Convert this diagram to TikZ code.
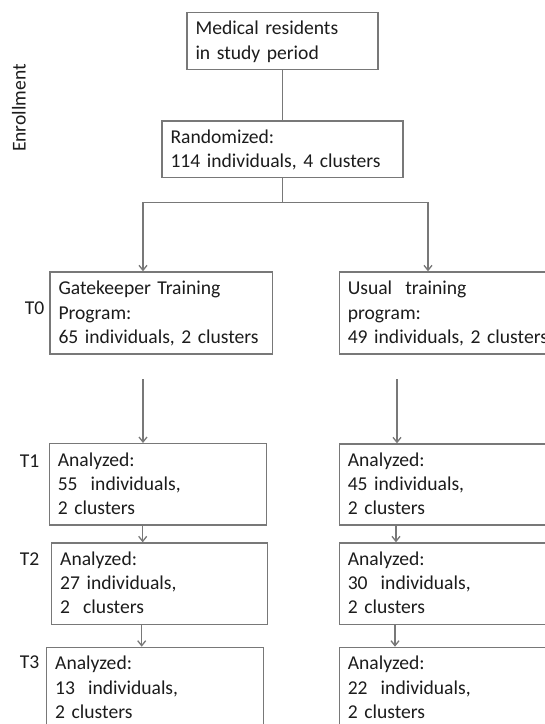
\documentclass[tikz,border=0pt]{standalone}
\usepackage{fontspec}
\setmainfont{Carlito}
\usetikzlibrary{arrows.meta}
\definecolor{linegray}{RGB}{120,120,120}
\definecolor{txt}{RGB}{28,28,28}
\newcommand{\myTop}{\rule{0pt}{16pt}}
\newcommand{\myBot}{\rule[-4pt]{0pt}{4pt}}
\begin{document}
\begin{tikzpicture}[x=1pt,y=-1pt,
  box/.style={draw=linegray, line width=1.3pt, rectangle, align=left,
    inner xsep=8.5pt, inner ysep=0pt, text=txt,
    font=\fontsize{19.6}{24.3}\selectfont},
  lab/.style={inner sep=0pt, text=txt, font=\fontsize{19.6}{24.3}\selectfont},
  conn/.style={draw=linegray, line width=1.3pt},
  arr/.style={conn, -{Straight Barb[length=5pt,width=8pt]}}]
\useasboundingbox (0,0) rectangle (545,724);
\fill[white] (0,0) rectangle (545,724);

% enrollment
\node[box, text width=174pt, minimum height=56.6pt] (res) at (282.5,41)
  {\myTop Medical residents\\in study period\myBot};
\node[box, text width=224pt, minimum height=56.7pt] (rand) at (282.5,149.35)
  {\myTop Randomized:\\114 individuals, 4 clusters\myBot};

% T0
\node[box, text width=205.7pt, minimum height=82pt] (gk) at (161.35,313)
  {\myTop Gatekeeper Training\\Program:\\65 individuals, 2 clusters\myBot};
\node[box, text width=205.7pt, minimum height=82pt] (ut) at (450.65,313)
  {\myTop Usual\ \ training\\program:\\49 individuals, 2 clusters\myBot};

% T1
\node[box, text width=200.4pt, minimum height=81.3pt] (a1) at (158,484.35)
  {\myTop Analyzed:\\55\ \ individuals,\\2 clusters\myBot};
\node[box, text width=205.7pt, minimum height=81pt] (b1) at (450.65,484.5)
  {\myTop Analyzed:\\45 individuals,\\2 clusters\myBot};

% T2
\node[box, text width=199pt, minimum height=81.3pt] (a2) at (159.7,583.65)
  {\myTop Analyzed:\\27 individuals,\\2\ \ clusters\myBot};
\node[box, text width=205.7pt, minimum height=81.3pt] (b2) at (450.65,583.65)
  {\myTop Analyzed:\\30\ \ individuals,\\2 clusters\myBot};

% T3
\node[box, text width=199.6pt, minimum height=81.3pt] (a3) at (155,688)
  {\myTop Analyzed:\\13\ \ individuals,\\2 clusters\myBot};
\node[box, text width=205.7pt, minimum height=81.3pt] (b3) at (450.65,688)
  {\myTop Analyzed:\\22\ \ individuals,\\2 clusters\myBot};

% side labels
\node[lab, rotate=90] (enr) at (19,108) {Enrollment};
\node[lab, anchor=base east] (t0) at (44.5,314) {T0};
\node[lab, anchor=base east] (t1) at (39.5,467) {T1};
\node[lab, anchor=base east] (t2) at (39.5,565) {T2};
\node[lab, anchor=base east] (t3) at (39.5,668) {T3};

% connector helper coordinates
\coordinate (split) at (282.5,202.5);
\coordinate (lx0) at (143,0);
\coordinate (rx0) at (428,0);
\coordinate (l01) at (143,379);
\coordinate (r01) at (397,379);
\coordinate (lx1) at (142.7,0);
\coordinate (rx1) at (396,0);
\coordinate (lx2) at (141.7,0);
\coordinate (rx2) at (395,0);

% connectors
\draw[conn] (res) -- (rand);
\draw[conn] (rand) -- (split);
\draw[arr] (split) -| (gk.north -| lx0);
\draw[arr] (split) -| (ut.north -| rx0);
\draw[arr] (l01) -- (a1.north -| l01);
\draw[arr] (r01) -- (b1.north -| r01);
\draw[arr] (a1.south -| lx1) -- (a2.north -| lx1);
\draw[arr] (b1.south -| rx1) -- (b2.north -| rx1);
\draw[arr] (a2.south -| lx2) -- (a3.north -| lx2);
\draw[arr] (b2.south -| rx2) -- (b3.north -| rx2);
\end{tikzpicture}
\end{document}
